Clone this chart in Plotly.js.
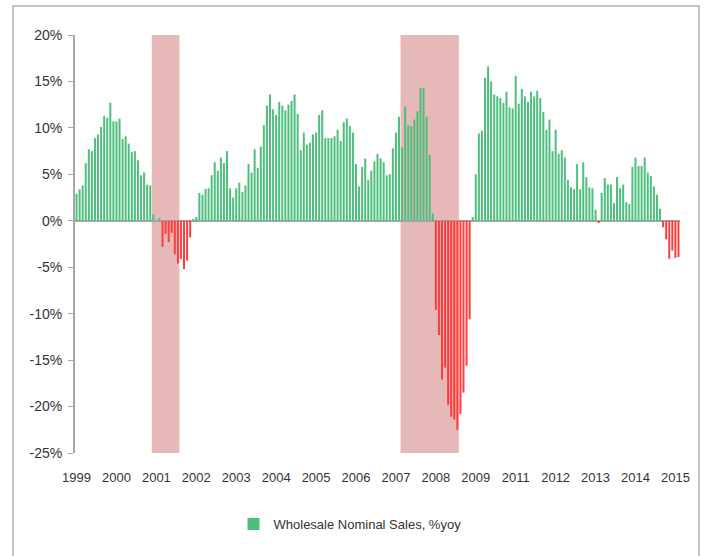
<!DOCTYPE html>
<html>
<head>
<meta charset="utf-8">
<script src="https://cdn.plot.ly/plotly-3.0.1.min.js"></script>
<style>
  html, body { margin: 0; padding: 0; background: #fff; }
  #wrap { position: relative; width: 706px; height: 556px; overflow: hidden; }
  #chart { position: absolute; left: 0; top: 0; width: 706px; height: 556px; }
  #frame { position: absolute; left: 12px; top: 5px; width: 684px; height: 570px;
           border: 2px solid #c3c3c3; pointer-events: none; }
</style>
</head>
<body>
<div id="wrap"><div id="chart"></div><div id="frame"></div></div>
<script>
// Wholesale nominal sales, % year-over-year, monthly from Feb 1999
const startYear = 1999, startMonth = 2;
const y1999 = [2.9, 3.4, 3.8, 6.2, 7.7, 7.5, 8.9, 9.3, 10.1, 11.3, 11.1];           // Feb-Dec
const y2000 = [12.7, 10.7, 10.7, 11.0, 8.8, 9.1, 8.3, 7.4, 7.5, 6.5, 4.9, 5.2];
const y2001 = [3.9, 3.8, 0.7, 0.05, 0.3, -2.8, -1.4, -2.3, -1.3, -3.6, -4.6, -4.1];
const y2002 = [-5.2, -4.3, -1.8, 0.2, 0.4, 3.0, 2.8, 3.4, 3.5, 4.9, 6.3, 5.4];
const y2003 = [6.8, 6.2, 7.5, 3.5, 2.5, 3.5, 4.1, 3.1, 3.8, 6.1, 5.2, 7.7];
const y2004 = [5.7, 8.0, 10.3, 12.4, 13.6, 12.0, 11.4, 12.8, 12.4, 11.9, 12.5, 12.9];
const y2005 = [13.6, 11.5, 7.6, 9.5, 8.2, 8.4, 9.3, 9.5, 11.4, 11.9, 8.9, 8.9];
const y2006 = [8.9, 9.1, 9.8, 8.6, 10.6, 11.0, 10.2, 9.5, 6.1, 3.7, 5.8, 6.7];
const y2007 = [4.4, 5.4, 6.4, 7.2, 6.7, 6.3, 4.9, 5.0, 7.8, 9.5, 11.2, 7.9];
const y2008 = [12.3, 10.3, 10.2, 10.9, 11.8, 14.3, 14.3, 11.2, 7.1, 0.8, -9.6, -12.3];
const y2009 = [-17.1, -15.8, -19.8, -21.1, -21.4, -22.5, -20.8, -18.5, -15.6, -10.6, 0.4, 5.0];
const y2010 = [9.4, 9.7, 15.4, 16.6, 15.0, 13.6, 13.4, 13.2, 12.7, 13.9, 12.2, 12.1];
const y2011 = [15.6, 12.6, 14.2, 13.4, 12.8, 13.9, 13.4, 14.0, 13.2, 11.7, 9.8, 10.9];
const y2012 = [7.5, 9.8, 7.2, 7.6, 6.8, 4.4, 3.6, 3.4, 6.1, 3.4, 6.3, 4.7];
const y2013 = [3.6, 3.5, 1.2, -0.25, 3.0, 4.6, 3.9, 3.9, 1.9, 4.7, 3.5, 3.9];
const y2014 = [2.0, 1.8, 5.8, 6.8, 5.9, 5.9, 6.8, 5.2, 4.8, 3.7, 2.8, 1.3];
const y2015 = [-0.7, -2.0, -4.1, -3.2, -4.0, -3.9];                                 // Jan-Jun

// x-axis labels: every 13th month, labelled with its year (as in the original)
const tickEvery = 13;
const tickText = ['1999','2000','2001','2002','2003','2004','2005','2006','2007','2008',
                  '2009','2011','2012','2013','2014','2015'];

// y-axis ticks
const yTickVals = [-25, -20, -15, -10, -5, 0, 5, 10, 15, 20];
const yTickText = ['-25%', '-20%', '-15%', '-10%', '-5%', '0%', '5%', '10%', '15%', '20%'];

// recession shading (NBER)
const recStart = ['2001-03', '2007-12'];
const recEnd   = ['2001-11', '2009-06'];

const seriesName = 'Wholesale Nominal Sales, %yoy';

const values = [].concat(y1999, y2000, y2001, y2002, y2003, y2004, y2005, y2006, y2007,
                         y2008, y2009, y2010, y2011, y2012, y2013, y2014, y2015);
const months = values.map((v, i) => {
  const m = startMonth - 1 + i;
  const yr = startYear + Math.floor(m / 12);
  const mo = (m % 12) + 1;
  return yr + '-' + (mo < 10 ? '0' : '') + mo;
});
const tickVals = tickText.map((t, k) => months[k * tickEvery]);

const GREEN = '#4DBF7C', RED = '#FF3B3B';
const colors = values.map(v => v >= 0 ? GREEN : RED);

const shapes = recStart.map((s, k) => ({
  type: 'rect', xref: 'x', yref: 'y', layer: 'below',
  x0: months.indexOf(s) - 0.5, x1: months.indexOf(recEnd[k]) + 0.5,
  y0: -25, y1: 20,
  fillcolor: '#E6B9B8', line: { width: 0 }
}));

const trace = {
  type: 'bar', x: months, y: values, name: seriesName,
  marker: { color: colors, line: { width: 0 } },
  showlegend: true, hoverinfo: 'x+y'
};

const font = { family: 'Liberation Sans, Arial, sans-serif', size: 13, color: '#333333' };

const layout = {
  width: 706, height: 556,
  margin: { l: 75, r: 26, t: 35, b: 103 },
  paper_bgcolor: 'rgba(0,0,0,0)', plot_bgcolor: 'rgba(0,0,0,0)',
  font: font,
  bargap: 0.35,
  showlegend: true,
  legend: { orientation: 'h', x: 0.262, xanchor: 'left', y: -0.17, yanchor: 'middle',
            font: font, bgcolor: 'rgba(0,0,0,0)' },
  xaxis: {
    type: 'category', range: [-0.5, values.length - 0.5],
    tickvals: tickVals, ticktext: tickText,
    showline: false, showgrid: false, zeroline: false,
    ticks: 'outside', ticklen: 12, tickcolor: 'rgba(0,0,0,0)',
    tickfont: font, tickangle: 0
  },
  yaxis: {
    range: [-25, 20], tickvals: yTickVals, ticktext: yTickText,
    showgrid: false,
    showline: true, linecolor: '#a6a6a6', linewidth: 2,
    ticks: 'outside', ticklen: 5, tickcolor: '#a6a6a6', tickwidth: 1,
    ticklabelstandoff: 3,
    zeroline: true, zerolinecolor: '#a6a6a6', zerolinewidth: 2,
    tickfont: { family: font.family, size: 14, color: '#333333' }
  },
  shapes: shapes
};

Plotly.newPlot('chart', [trace], layout, { displayModeBar: false, staticPlot: true });
</script>
</body>
</html>
